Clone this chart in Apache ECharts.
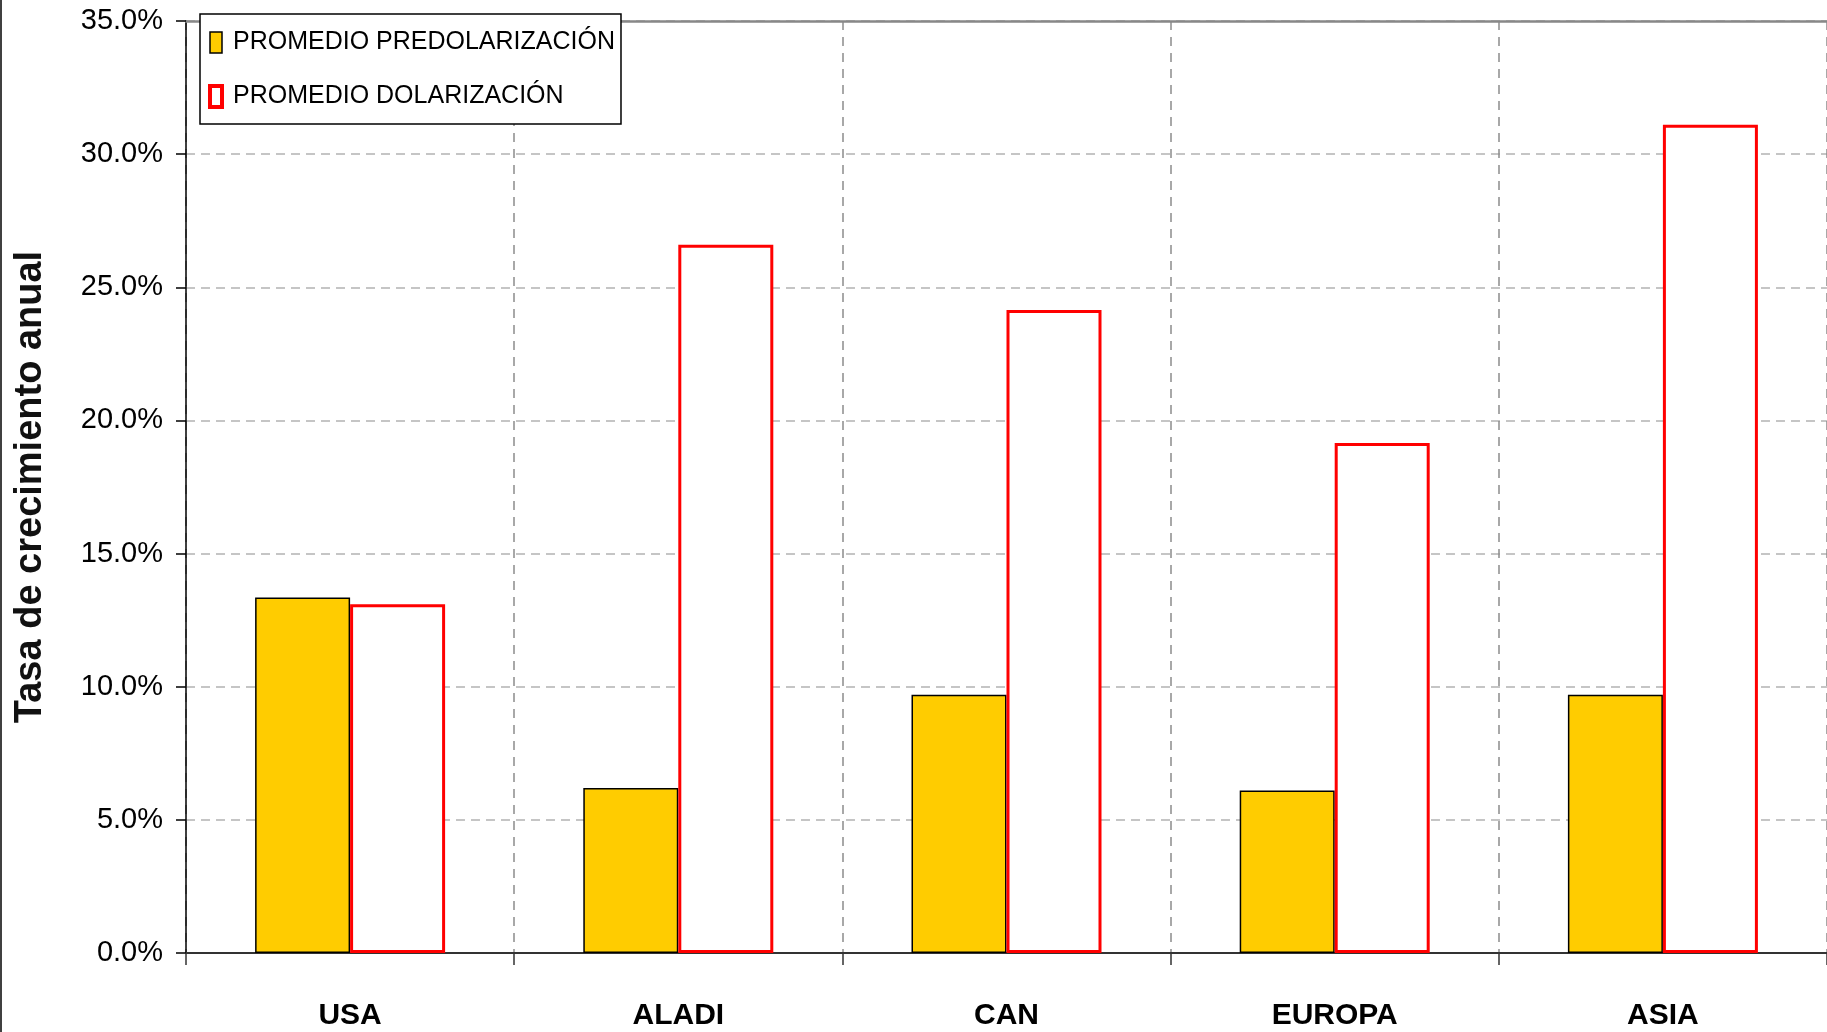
<!DOCTYPE html>
<html>
<head>
<meta charset="utf-8">
<script src="https://cdn.jsdelivr.net/npm/echarts@6/dist/echarts.min.js"></script>
<style>
html,body{margin:0;padding:0;background:#fff;}
#main{width:1827px;height:1032px;}
</style>
</head>
<body>
<div id="main"></div>
<script>
const categories = ['USA', 'ALADI', 'CAN', 'EUROPA', 'ASIA'];
const seriesNames = ['PROMEDIO PREDOLARIZACIÓN', 'PROMEDIO DOLARIZACIÓN'];
const predolarizacion = [13.35, 6.2, 9.7, 6.1, 9.7];
const dolarizacion = [13.1, 26.6, 24.15, 19.15, 31.1];
const yTicks = { min: 0, max: 35, interval: 5 };
const yTitle = 'Tasa de crecimiento anual';

const FONT = '"Liberation Sans", Arial, sans-serif';
const chart = echarts.init(document.getElementById('main'));
chart.setOption({
  backgroundColor: '#ffffff',
  animation: false,
  grid: { left: 186, top: 21, bottom: 79, right: -8, containLabel: false },
  legend: {
    orient: 'vertical',
    left: 200, top: 14,
    padding: [16, 6, 15, 8],
    itemGap: 29,
    itemWidth: 12, itemHeight: 21,
    backgroundColor: '#ffffff',
    borderColor: '#000000', borderWidth: 1.5,
    icon: 'rect',
    textStyle: { fontFamily: FONT, fontSize: 25, color: '#000', padding: [0, 0, 0, 6] },
    data: [
      { name: seriesNames[0], itemStyle: { color: '#FFCC00', borderColor: '#000', borderWidth: 1.5 } },
      { name: seriesNames[1], itemStyle: { color: '#ffffff', borderColor: '#FF0000', borderWidth: 4 } }
    ]
  },
  graphic: [{
    type: 'line', shape: { x1: 1, y1: 0, x2: 1, y2: 1032 },
    style: { stroke: '#000', lineWidth: 1.5 }
  }],
  xAxis: [{
    type: 'category',
    data: categories,
    axisLine: { show: true, lineStyle: { color: '#333', width: 2 } },
    axisTick: { show: true, length: 12, lineStyle: { color: '#333', width: 1.5 } },
    axisLabel: { margin: 48, fontFamily: FONT, fontWeight: 'bold', fontSize: 30, color: '#000' },
    splitLine: { show: true, lineStyle: { color: '#8c8c8c', type: [9, 7], width: 1.5 } }
  }, {
    type: 'category',
    data: categories,
    position: 'top',
    axisLine: { show: true, lineStyle: { color: '#888', width: 2.5 } },
    axisTick: { show: false },
    axisLabel: { show: false },
    splitLine: { show: false }
  }],
  yAxis: {
    type: 'value',
    min: yTicks.min, max: yTicks.max, interval: yTicks.interval,
    name: yTitle,
    nameLocation: 'middle',
    nameRotate: 90,
    nameGap: 136,
    nameTextStyle: { fontFamily: FONT, fontWeight: 'bold', fontSize: 38, color: '#111' },
    axisLine: { show: true, lineStyle: { color: '#000', width: 1.5 } },
    axisTick: { show: true, length: 10, lineStyle: { color: '#000', width: 1.5 } },
    axisLabel: { margin: 23, fontFamily: FONT, fontSize: 29, color: '#000',
      formatter: v => v.toFixed(1) + '%' },
    splitLine: { show: true, lineStyle: { color: '#b3b3b3', type: [9, 6], width: 1.5 } }
  },
  series: [{
    name: seriesNames[0],
    type: 'bar',
    data: predolarizacion,
    barWidth: 95,
    barGap: '0%',
    itemStyle: { color: '#FFCC00', borderColor: '#000', borderWidth: 1.5 }
  }, {
    name: seriesNames[1],
    type: 'bar',
    data: dolarizacion,
    barWidth: 95,
    barGap: '0%',
    itemStyle: { color: '#ffffff', borderColor: '#FF0000', borderWidth: 3 }
  }]
});
</script>
</body>
</html>
